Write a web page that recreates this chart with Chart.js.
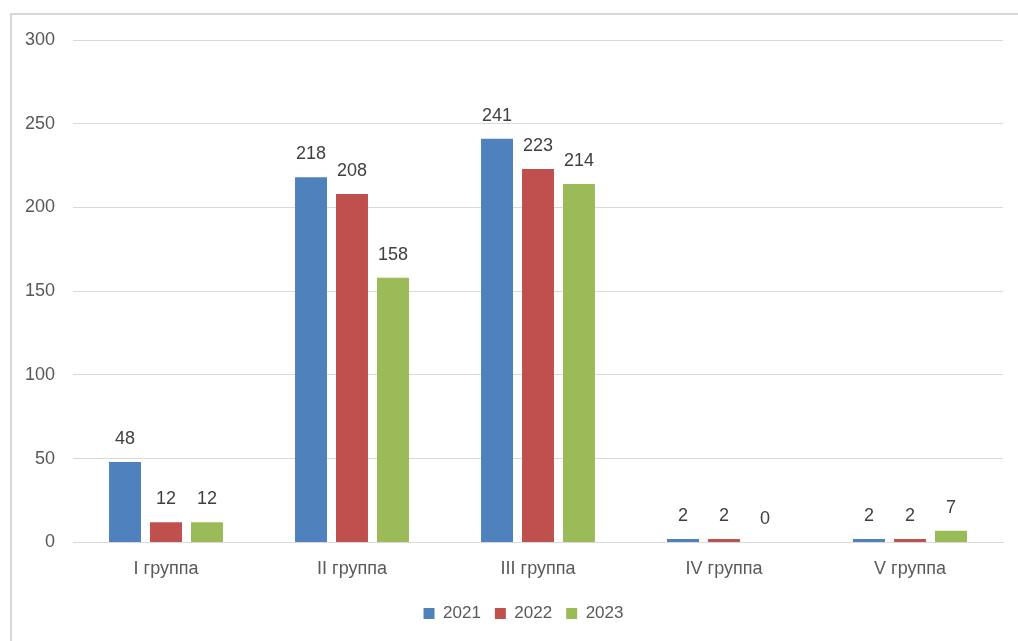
<!DOCTYPE html>
<html><head><meta charset="utf-8">
<script src="https://cdn.jsdelivr.net/npm/chart.js@4"></script>
<style>
html,body{margin:0;padding:0;background:#fff;width:1018px;height:641px;overflow:hidden;}
#frame{position:absolute;left:10px;top:13px;width:1030px;height:660px;border-left:2px solid #d9d9d9;border-top:2px solid #d9d9d9;box-sizing:border-box;}
#wrap{position:absolute;left:0;top:0;width:1018px;height:641px;}
</style></head><body>
<div id="frame"></div>
<div id="wrap"><canvas id="c" width="1018" height="641"></canvas></div>
<script>
const categories = ["I группа", "II группа", "III группа", "IV группа", "V группа"];
const seriesNames = ["2021", "2022", "2023"];
const values2021 = [48, 218, 241, 2, 2];
const values2022 = [12, 208, 223, 2, 2];
const values2023 = [12, 158, 214, 0, 7];
const yTicks = [0, 50, 100, 150, 200, 250, 300];
const colors = ["#4F81BD", "#C0504D", "#9BBB59"];

const FONT = "'Liberation Sans', Arial, sans-serif";

const labelPlugin = {
  id: 'barLabels',
  afterDatasetsDraw(chart) {
    const ctx = chart.ctx;
    ctx.save();
    ctx.font = "18px " + FONT;
    ctx.fillStyle = "#404040";
    ctx.textAlign = "center";
    ctx.textBaseline = "middle";
    chart.data.datasets.forEach((ds, i) => {
      const meta = chart.getDatasetMeta(i);
      meta.data.forEach((bar, j) => {
        ctx.fillText(String(ds.data[j]), bar.x, bar.y - 23);
      });
    });
    ctx.restore();
  }
};

const legendShift = {
  id: 'legendShift',
  afterLayout(chart) {
    const l = chart.legend;
    if (l) { l.left += 13; l.right += 13; }
  }
};

new Chart(document.getElementById('c'), {
  type: 'bar',
  data: {
    labels: categories,
    datasets: [
      { label: seriesNames[0], data: values2021, backgroundColor: colors[0] },
      { label: seriesNames[1], data: values2022, backgroundColor: colors[1] },
      { label: seriesNames[2], data: values2023, backgroundColor: colors[2] }
    ]
  },
  options: {
    responsive: false,
    animation: false,
    devicePixelRatio: 1,
    layout: { padding: { left: 18, right: 15, top: 40, bottom: 9 } },
    datasets: { bar: { categoryPercentage: 0.661, barPercentage: 0.78 } },
    scales: {
      x: {
        afterFit(scale) { scale.height = scale.height - 5; },
        grid: { display: false, drawTicks: false },
        border: { display: true, color: "#d9d9d9" },
        ticks: { color: "#595959", font: { size: 18, family: FONT }, padding: 16 }
      },
      y: {
        min: 0, max: 300,
        afterBuildTicks(scale) { scale.ticks = yTicks.map(v => ({ value: v })); },
        afterFit(scale) { scale.width = 55; },
        grid: { color: "#d9d9d9", drawTicks: false },
        border: { display: false },
        ticks: { color: "#595959", font: { size: 18, family: FONT }, padding: 18 }
      }
    },
    plugins: {
      legend: {
        position: 'bottom',
        labels: { boxWidth: 11, boxHeight: 11, color: "#595959", font: { size: 17, family: FONT }, padding: 14 }
      },
      tooltip: { enabled: false }
    }
  },
  plugins: [labelPlugin, legendShift]
});
</script>
</body></html>
